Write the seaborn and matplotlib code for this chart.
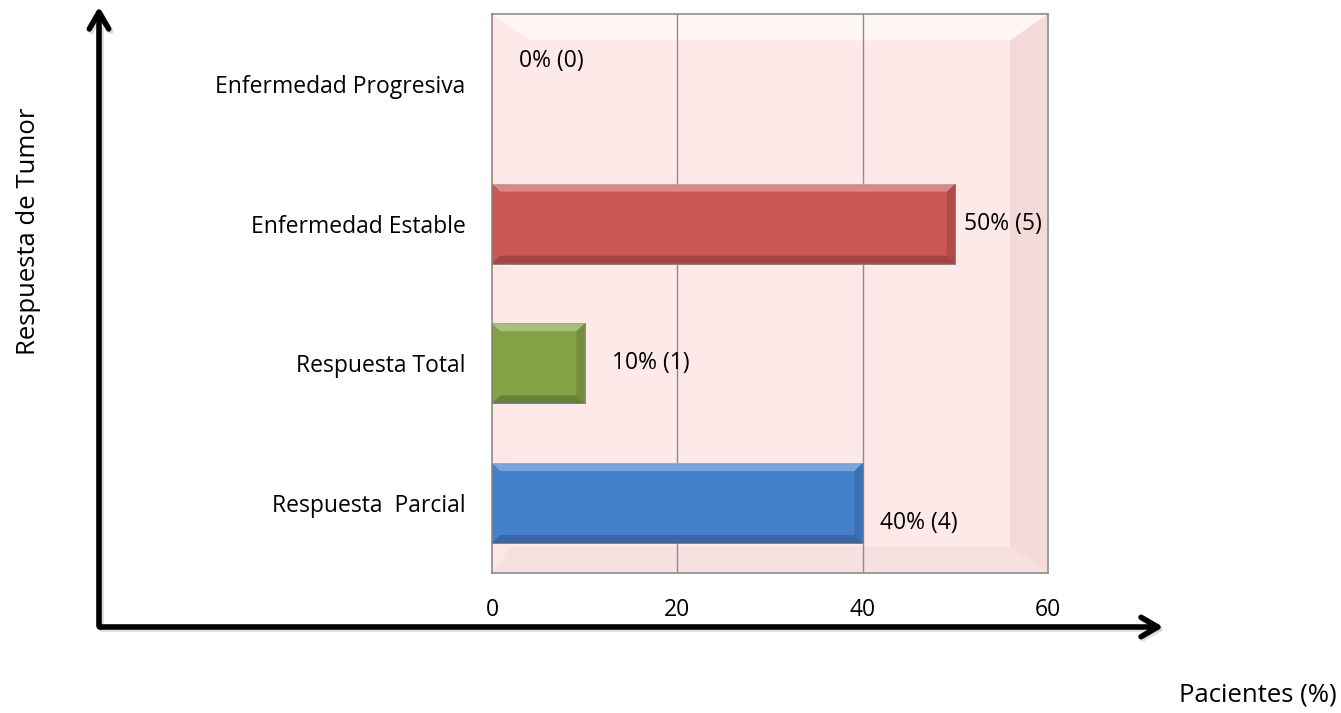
import matplotlib
matplotlib.use("Agg")
import matplotlib.pyplot as plt
from matplotlib.patches import Polygon, FancyArrowPatch
import seaborn as sns
import pandas as pd

# Tumour response categories (top to bottom) and patient percentages
categories = ["Enfermedad Progresiva", "Enfermedad Estable", "Respuesta Total", "Respuesta  Parcial"]
percentages = [0, 50, 10, 40]
counts = [0, 5, 1, 4]
bar_colors = ["#C0504D", "#CB5654", "#82A246", "#4480CC"]
x_ticks = [0, 20, 40, 60]

# label placement relative to each bar end (x offset in %, y offset in category units)
label_dx = [2.9, 0.9, 3.0, 1.9]
label_dy = [-0.165, 0.0, 0.0, 0.145]

FS = 16.5
TITLE_FS = 18.5

df = pd.DataFrame({"cat": categories, "pct": percentages})

sns.set_theme(style="white")
plt.rcParams["font.family"] = ["Open Sans", "DejaVu Sans"]

W, H = 1341, 713
fig = plt.figure(figsize=(W / 100, H / 100), dpi=100)
ax = fig.add_axes([492 / W, (H - 573) / H, (1048 - 492) / W, 559 / H])

ax.set_facecolor("#FDE9E8")

sns.barplot(data=df, x="pct", y="cat", hue="cat", palette=bar_colors,
            orient="h", width=0.573, saturation=1, legend=False,
            edgecolor="#7F7F7F", linewidth=0.6, ax=ax, zorder=3)
bars = [b for c in ax.containers for b in c]

# bevelled plot-area frame
bev_x, bev_y = 0.068, 0.047
frame = [
    ([(0, 1), (1, 1), (1 - bev_x, 1 - bev_y), (bev_x, 1 - bev_y)], "#FFF6F6"),
    ([(0, 0), (0, 1), (bev_x * 0.5, 1 - bev_y), (bev_x * 0.5, bev_y)], "#FCE6E6"),
    ([(1, 0), (1, 1), (1 - bev_x, 1 - bev_y), (1 - bev_x, bev_y)], "#F5DADA"),
    ([(0, 0), (1, 0), (1 - bev_x, bev_y), (bev_x * 0.5, bev_y)], "#F9E0E0"),
]
for pts, c in frame:
    ax.add_patch(Polygon(pts, closed=True, transform=ax.transAxes,
                         facecolor=c, edgecolor="none", zorder=0))

# bevel highlights on each bar
for patch in bars:
    x0, y0 = patch.get_x(), patch.get_y()
    w, h = patch.get_width(), patch.get_height()
    if w <= 0:
        patch.set_visible(False)
        continue
    bx = min(0.9, w * 0.3)
    by = h * 0.1
    y_top, y_bot = y0, y0 + h  # inverted axis: y0 is top
    ax.add_patch(Polygon([(x0, y_top), (x0 + w, y_top), (x0 + w - bx, y_top + by), (x0 + bx, y_top + by)],
                         facecolor="white", alpha=0.3, edgecolor="none", zorder=4))
    ax.add_patch(Polygon([(x0, y_bot), (x0 + w, y_bot), (x0 + w - bx, y_bot - by), (x0 + bx, y_bot - by)],
                         facecolor="black", alpha=0.2, edgecolor="none", zorder=4))
    ax.add_patch(Polygon([(x0 + w, y_top), (x0 + w, y_bot), (x0 + w - bx, y_bot - by), (x0 + w - bx, y_top + by)],
                         facecolor="black", alpha=0.12, edgecolor="none", zorder=4))

ax.set_xlim(0, 60)
ax.set_ylim(3.5, -0.5)
ax.set_xticks(x_ticks)
ax.set_xticklabels([str(t) for t in x_ticks])
ax.tick_params(axis="x", length=0, pad=18, labelsize=FS, colors="black")
ax.tick_params(axis="y", length=0, pad=19, labelsize=FS, colors="black")
ax.set_xlabel("")
ax.set_ylabel("")

ax.grid(False)
for t in x_ticks[1:-1]:
    ax.axvline(t, color="#8C8C8C", lw=1.0, zorder=1)
for s in ax.spines.values():
    s.set_visible(True)
    s.set_color("#8C8C8C")
    s.set_linewidth(1.2)

# value labels
for i, (p, n) in enumerate(zip(percentages, counts)):
    ax.text(p + label_dx[i], i + label_dy[i], f"{p}% ({n})", ha="left", va="center",
            fontsize=FS, color="black", zorder=6)

# hand-drawn style axis arrows around the chart
def px(x, y):
    return (x / W, 1 - y / H)

for start, end in [((99, 629), (99, 4)), ((97, 627), (1166, 627))]:
    shadow = FancyArrowPatch(px(start[0] + 2, start[1] + 2), px(end[0] + 2, end[1] + 2),
                             transform=fig.transFigure, arrowstyle="->,head_length=12,head_width=7",
                             mutation_scale=1, lw=4.2, color="#BFBFBF", alpha=0.5,
                             capstyle="round", joinstyle="round")
    fig.add_artist(shadow)
    arr = FancyArrowPatch(px(*start), px(*end), transform=fig.transFigure,
                          arrowstyle="->,head_length=12,head_width=7", mutation_scale=1,
                          lw=4.0, color="black", capstyle="round", joinstyle="round")
    fig.add_artist(arr)

fig.text(29 / W, 1 - 231 / H, "Respuesta de Tumor", rotation=90, ha="center", va="center",
         fontsize=TITLE_FS, color="black")
fig.text(1337 / W, 1 - 695 / H, "Pacientes (%)", ha="right", va="center",
         fontsize=TITLE_FS, color="black")

fig.savefig("out.png", dpi=100, facecolor="white")
